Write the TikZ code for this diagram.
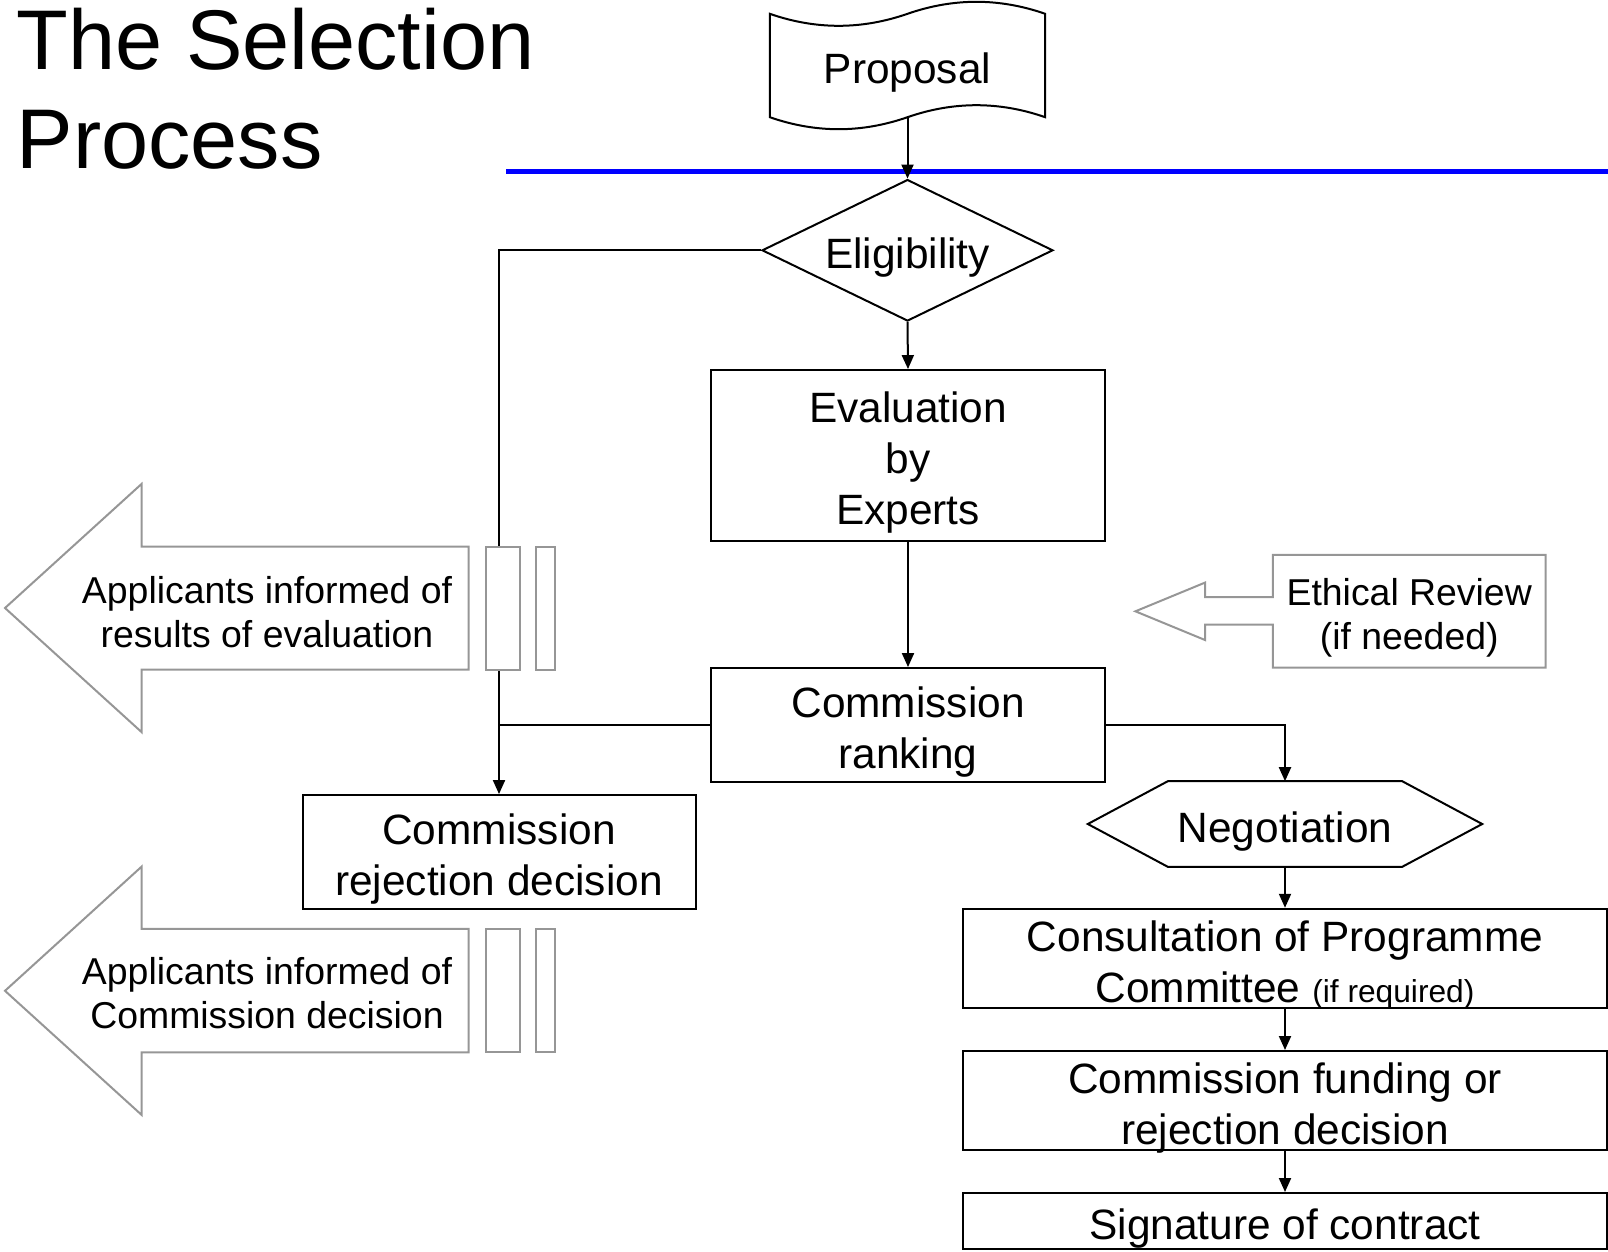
\documentclass[tikz,border=0pt]{standalone}
\usepackage{fontspec}
\setmainfont{Liberation Sans}
\usetikzlibrary{shapes.geometric,arrows.meta}
\definecolor{outgray}{RGB}{150,150,150}
\newcommand{\mainsize}{\fontsize{42.4}{51}\selectfont}
\newcommand{\notesize}{\fontsize{37.4}{44}\selectfont}
\newcommand{\smallnote}{\fontsize{31.7}{38}\selectfont}
\newcommand{\titlesize}{\fontsize{84.7}{99}\selectfont}

\begin{document}
\begin{tikzpicture}[x=1pt,y=-1pt,
  line/.style={line width=2pt},
  arr/.style={line width=2pt,-{Triangle[length=14pt,width=12pt]}},
  txt/.style={font=\mainsize,align=center,inner sep=0pt,
    execute at begin node={\rule{0pt}{\dimexpr#1\baselineskip+1.155em\relax}},
    execute at end node={\rule[-0.283em]{0pt}{0pt}}},
  txt/.default=0,
  box/.style={txt=#1,draw,line width=2pt,rectangle},
  box/.default=0,
  note/.style={txt=1,font=\notesize},
  grayline/.style={draw=outgray,line width=2pt}]

	\useasboundingbox (0,0) rectangle (1608,1251);

	\node[anchor=north west,align=left,inner sep=0pt,font=\titlesize] (title) at (16.5,7.5) {The Selection\\Process};
	\draw[blue,line width=5pt] (506,171.5) -- (1608,171.5);

	\node[txt,minimum width=275pt,minimum height=103pt] (prop) at (907.5,65.5) {Proposal};
	\node[txt,shape=diamond,draw,line width=2pt,inner sep=-5pt,aspect=2.06,
	  minimum width=291pt,minimum height=141.5pt] (elig) at (907.5,250.3) {Eligibility};
	\node[box=2,minimum width=394pt,minimum height=170.5pt] (eval) at (908,455.3) {Evaluation\\by\\Experts};
	\node[box=1,minimum width=394pt,minimum height=113.5pt] (rank) at (908,724.8) {Commission\\ranking};
	\node[box=1,minimum width=393pt,minimum height=113.7pt] (rej) at (499,851.9) {Commission\\rejection decision};
	\node[txt,minimum width=394pt,minimum height=85.2pt] (nego) at (1285,824) {Negotiation};
	\node[box=1,inner ysep=-7pt,minimum width=644pt,minimum height=99.3pt] (cons) at (1285,958.4) {Consultation of Programme\\Committee {\smallnote (if required)}};
	\node[box=1,inner ysep=-7pt,minimum width=644pt,minimum height=99pt] (fund) at (1285,1100.5) {Commission funding or\\rejection decision};
	\node[box,inner ysep=-3pt,minimum width=644pt,minimum height=56pt] (sign) at (1285,1221) {Signature of contract};

	% proposal tape and negotiation hexagon
	\draw[line] (prop.north west) .. controls +(46,16) and +(-46,16) .. (prop.north)
	  .. controls +(46,-16) and +(-46,-16) .. (prop.north east) -- (prop.south east)
	  .. controls +(-46,-16) and +(46,-16) .. (prop.south)
	  .. controls +(-46,16) and +(46,16) .. (prop.south west) -- cycle;
	\draw[line] (nego.west) -- ([xshift=80pt]nego.north west) -- ([xshift=-80pt]nego.north east)
	  -- (nego.east) -- ([xshift=-80pt]nego.south east) -- ([xshift=80pt]nego.south west) -- cycle;

	\draw[arr] (prop.south) -- (elig.north);
	\draw[arr] (elig.south) -- (eval.north);
	\draw[arr] (eval.south) -- (rank.north);
	\draw[arr] (elig.west) -| (rej.north);
	\draw[line] (rank.west) -- (rank.west -| rej.north);
	\draw[arr] (rank.east) -| (nego.north);
	\draw[arr] (nego.south) -- (cons.north);
	\draw[arr] (cons.south) -- (fund.north);
	\draw[arr] (fund.south) -- (sign.north);

	% ethical review callout
	\node[note,minimum width=272.8pt,minimum height=112.8pt] (eth) at (1409.2,611.3) {Ethical Review\\(if needed)};
	\draw[grayline] (1272.8,597) -- (1272.8,554.9) -- (1545.6,554.9) -- (1545.6,667.7) -- (1272.8,667.7)
	  -- (1272.8,624.6) -- (1205,624.6) -- (1205,640) -- (1135.4,611.3) -- (1205,582.6) -- (1205,597) -- cycle;

	% striped arrows to the applicants
	\draw[grayline] (468.7,546.6) -- (141.5,546.6) -- (141.5,484) -- (5,608) -- (141.5,732) -- (141.5,669.7) -- (468.7,669.7) -- cycle;
	\draw[grayline,fill=white] (486,546.6) rectangle (520,669.7);
	\draw[grayline,fill=white] (536.4,546.6) rectangle (554.9,669.7);
	\node[note] (inf1) at (267,609) {Applicants informed of\\results of evaluation};

	\draw[grayline] (468.7,928.8) -- (141.5,928.8) -- (141.5,866.7) -- (5,990.8) -- (141.5,1114.8) -- (141.5,1052.3) -- (468.7,1052.3) -- cycle;
	\draw[grayline,fill=white] (486,928.8) rectangle (520,1052.3);
	\draw[grayline,fill=white] (536.4,928.8) rectangle (554.9,1052.3);
	\node[note] (inf2) at (267,990) {Applicants informed of\\Commission decision};
\end{tikzpicture}
\end{document}
